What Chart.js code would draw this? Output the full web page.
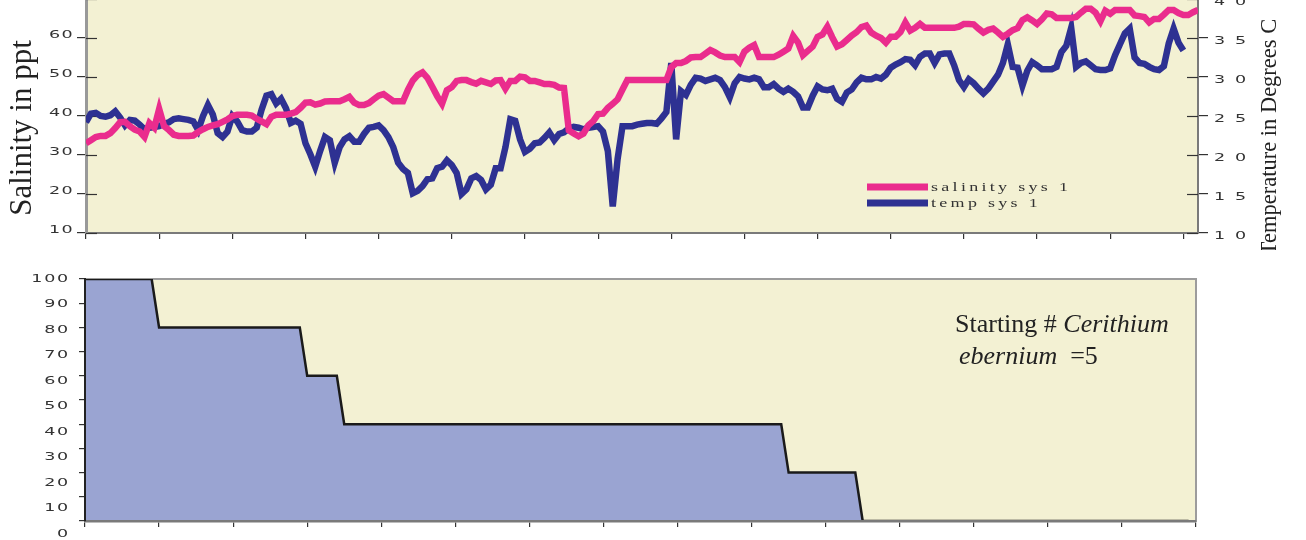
<!DOCTYPE html>
<html>
<head>
<meta charset="utf-8">
<script src="https://cdn.jsdelivr.net/npm/chart.js@4.4.0/dist/chart.umd.min.js"></script>
<style>
html,body{margin:0;padding:0;background:#ffffff;width:1306px;height:540px;overflow:hidden;}
#top{position:absolute;left:0;top:-13px;}
#bot{position:absolute;left:0;top:250px;}
.note{position:absolute;left:955px;top:308px;font-family:"Liberation Serif","Times New Roman",serif;font-size:26px;line-height:32px;color:#222;white-space:nowrap;}
.note .l2{padding-left:4px;}
</style>
</head>
<body>
<canvas id="top" width="1306" height="263"></canvas>
<canvas id="bot" width="1306" height="290"></canvas>
<div class="note">Starting # <i>Cerithium</i><br><span class="l2"><i>ebernium</i>&nbsp; =5</span></div>
<script>
// ---------- data ----------
const days = Array.from({length: 229}, (_, i) => i);   // sampling index (15 per tick)

const salinity = [
  33.0, 33.8, 34.6, 34.9, 34.9, 35.6, 36.9, 38.4, 38.5, 37.4,
  36.5, 36.0, 34.6, 38.2, 37.0, 41.8, 37.4, 36.4, 35.2, 34.9,
  34.9, 34.9, 35.0, 35.9, 36.6, 37.2, 37.6, 37.9, 38.5, 39.1,
  40.0, 40.3, 40.3, 40.3, 40.1, 39.3, 38.6, 37.9, 39.8, 40.3,
  40.3, 40.3, 40.6, 41.0, 42.1, 43.4, 43.5, 42.9, 43.2, 43.7,
  43.8, 43.8, 43.8, 44.3, 44.9, 43.4, 42.8, 42.8, 43.3, 44.3,
  45.2, 45.6, 44.7, 43.8, 43.8, 43.8, 46.7, 49.1, 50.5, 51.2,
  49.8, 47.5, 45.1, 43.1, 46.6, 47.4, 49.0, 49.2, 49.2, 48.7,
  48.3, 49.0, 48.6, 48.2, 49.1, 49.2, 47.0, 49.0, 49.0, 50.1,
  49.9, 49.0, 49.0, 48.6, 48.2, 48.2, 48.0, 47.3, 47.2, 36.3,
  35.5, 34.8, 35.5, 37.6, 38.7, 40.5, 40.6, 42.1, 43.1, 44.3,
  46.8, 49.2, 49.2, 49.2, 49.2, 49.2, 49.2, 49.2, 49.2, 49.2,
  52.5, 53.6, 53.6, 54.1, 55.0, 55.1, 55.1, 56.0, 56.9, 56.3,
  55.5, 55.1, 55.1, 55.1, 53.8, 56.5, 57.5, 58.2, 55.1, 55.1,
  55.1, 55.1, 55.7, 56.5, 57.3, 60.5, 58.8, 55.6, 56.7, 57.8,
  60.3, 60.9, 62.9, 60.2, 57.8, 58.4, 59.5, 60.6, 61.5, 62.8,
  63.2, 61.4, 60.6, 60.0, 58.8, 60.3, 60.3, 61.5, 64.0, 61.9,
  62.6, 63.6, 62.6, 62.6, 62.6, 62.6, 62.6, 62.6, 62.6, 62.9,
  63.6, 63.6, 63.5, 62.4, 61.4, 62.1, 62.4, 61.4, 60.3, 61.1,
  62.0, 62.5, 64.6, 65.3, 64.5, 63.6, 64.8, 66.3, 66.1, 65.1,
  65.1, 65.1, 65.1, 65.4, 66.5, 67.5, 67.5, 66.5, 64.3, 67.0,
  66.2, 67.2, 67.2, 67.2, 67.2, 65.8, 65.6, 65.4, 64.0, 64.9,
  64.9, 66.0, 67.2, 67.2, 66.4, 65.9, 65.9, 66.6, 67.2
];

const temperature = [
  24.2, 25.3, 25.4, 25.0, 24.9, 25.1, 25.6, 24.8, 23.8, 24.5,
  24.4, 23.9, 23.3, 23.5, 23.6, 23.7, 24.0, 24.2, 24.6, 24.7,
  24.6, 24.5, 24.3, 23.2, 25.0, 26.4, 25.2, 22.8, 22.3, 23.0,
  25.0, 24.3, 23.2, 23.0, 23.0, 23.5, 25.8, 27.6, 27.8, 26.6,
  27.2, 26.0, 24.1, 24.4, 24.0, 21.5, 20.1, 18.5, 20.5, 22.3,
  21.9, 19.0, 21.0, 22.0, 22.4, 21.7, 21.7, 22.7, 23.5, 23.6,
  23.8, 23.2, 22.3, 21.0, 19.0, 18.2, 17.7, 15.1, 15.4, 16.0,
  16.9, 17.0, 18.3, 18.5, 19.3, 18.7, 17.7, 15.0, 15.6, 17.0,
  17.3, 16.8, 15.6, 16.2, 18.3, 18.3, 21.0, 24.6, 24.4, 22.0,
  20.4, 20.8, 21.5, 21.6, 22.2, 22.9, 21.9, 22.7, 22.9, 23.4,
  23.6, 23.5, 23.3, 23.5, 23.6, 23.7, 23.0, 20.5, 13.4, 19.5,
  23.7, 23.7, 23.7, 23.9, 24.0, 24.1, 24.1, 24.0, 24.7, 25.5,
  31.8, 22.0, 28.2, 27.7, 29.0, 29.9, 29.8, 29.5, 29.7, 29.9,
  29.6, 28.7, 27.4, 29.2, 30.0, 29.8, 29.7, 29.9, 29.7, 28.7,
  28.7, 29.1, 28.5, 28.1, 28.5, 28.1, 27.5, 26.1, 26.1, 27.6,
  28.8, 28.4, 28.3, 28.5, 27.2, 26.8, 28.0, 28.4, 29.3, 29.9,
  29.7, 29.7, 30.0, 29.8, 30.3, 31.2, 31.6, 31.9, 32.3, 32.2,
  31.5, 32.6, 33.0, 33.0, 31.8, 32.9, 33.0, 33.0, 31.5, 29.6,
  28.7, 29.7, 29.2, 28.5, 27.9, 28.5, 29.4, 30.3, 31.8, 34.2,
  31.3, 31.2, 28.9, 30.8, 31.9, 31.5, 31.0, 31.0, 31.0, 31.3,
  33.2, 34.0, 36.3, 31.3, 31.8, 32.0, 31.5, 31.0, 30.9, 30.9,
  31.1, 32.8, 34.2, 35.6, 36.2, 32.5, 31.8, 31.7, 31.3, 31.0,
  30.9, 31.4, 34.3, 36.2, 34.4, 33.4
];

const salinityTicks = [10, 20, 30, 40, 50, 60, 70];
const tempTicks = [10, 15, 20, 25, 30, 35, 40];

// survival (%) of Cerithium ebernium, step points
const survDays = [0, 9, 10, 29, 30, 34, 35, 94, 95, 104, 105, 149];
const survival = [100, 100, 80, 80, 60, 60, 40, 40, 20, 20, 0, 0];
const survivalTicks = [0, 10, 20, 30, 40, 50, 60, 70, 80, 90, 100];

// ---------- style ----------
const PINK = '#EA2C8D';
const NAVY = '#2E3192';
const CREAM = '#F3F1D3';
const AREA = '#9AA4D2';
const TICKFONT = {family: 'DejaVu Sans', size: 10};

// ---------- plugins ----------
const plotBg = {
  id: 'plotBg',
  beforeDraw(chart) {
    const {ctx, chartArea: a} = chart;
    ctx.save();
    ctx.fillStyle = CREAM;
    ctx.fillRect(a.left, a.top, a.width, a.height);
    ctx.strokeStyle = '#9c9c9c';
    ctx.lineWidth = 2;
    ctx.strokeRect(a.left, a.top, a.width, a.height);
    ctx.restore();
  }
};

// draws tick labels horizontally stretched (wide face like the original)
function wideLabels(map) {
  return {
    id: 'wideLabels',
    afterUpdate(chart) {
      for (const id in map) {
        const s = chart.scales[id];
        if (!s || s._wide) continue;
        const cfg = map[id];
        s.drawLabels = function (area) {
          const c = this.ctx;
          const items = this.getLabelItems(area);
          items.forEach((it, i) => {
            const o = it.options;
            const v = this.ticks[i] ? this.ticks[i].value : 0;
            const dy = cfg.dy ? cfg.dy(v) : 0;
            c.save();
            c.translate(o.translation[0], o.translation[1] + dy);
            c.scale(cfg.sx, 1);
            c.font = it.font.string;
            c.fillStyle = o.color;
            c.textAlign = o.textAlign;
            c.textBaseline = o.textBaseline;
            c.letterSpacing = cfg.sp;
            c.fillText(it.label, 0, it.textOffset);
            c.restore();
          });
        };
        s._wide = true;
      }
    }
  };
}

const innerTicks = {
  id: 'innerTicks',
  beforeDatasetsDraw(chart) {
    const {ctx, chartArea: a} = chart;
    ctx.save();
    ctx.strokeStyle = '#333';
    ctx.lineWidth = 1.2;
    const sy = chart.scales.y, sy2 = chart.scales.y2;
    sy.ticks.forEach(t => {
      const p = Math.round(sy.getPixelForValue(t.value)) + 0.5;
      ctx.beginPath(); ctx.moveTo(a.left, p); ctx.lineTo(a.left + 11, p); ctx.stroke();
    });
    sy2.ticks.forEach(t => {
      const p = Math.round(sy2.getPixelForValue(t.value)) + 0.5;
      ctx.beginPath(); ctx.moveTo(a.right - 11, p); ctx.lineTo(a.right, p); ctx.stroke();
    });
    ctx.restore();
  }
};

const innerLegend = {
  id: 'innerLegend',
  afterDraw(chart) {
    const {ctx} = chart;
    const rows = [200, 216];   // canvas coords (page y 187 / 203)
    chart.data.datasets.forEach((ds, i) => {
      const y = rows[i];
      ctx.save();
      ctx.strokeStyle = ds.borderColor;
      ctx.lineWidth = 7;
      ctx.lineCap = 'butt';
      ctx.beginPath(); ctx.moveTo(867, y); ctx.lineTo(928, y); ctx.stroke();
      ctx.fillStyle = '#333';
      ctx.font = '12px "Liberation Serif"';
      ctx.letterSpacing = '2.2px';
      ctx.textAlign = 'left';
      ctx.textBaseline = 'middle';
      ctx.translate(931, y + 1);
      ctx.scale(1.5, 1);
      ctx.fillText(ds.label, 0, 0);
      ctx.restore();
    });
  }
};

const axisTitles = {
  id: 'axisTitles',
  afterDraw(chart) {
    const {ctx} = chart;
    ctx.save();
    ctx.fillStyle = '#222';
    ctx.textAlign = 'center';
    ctx.textBaseline = 'alphabetic';
    ctx.translate(31, 141);
    ctx.rotate(-Math.PI / 2);
    ctx.font = '31px "Liberation Serif"';
    ctx.fillText(chart.options.scales.y.title.text, 0, 0);
    ctx.restore();
    ctx.save();
    ctx.fillStyle = '#222';
    ctx.textAlign = 'center';
    ctx.textBaseline = 'alphabetic';
    ctx.translate(1276, 150);
    ctx.rotate(-Math.PI / 2);
    ctx.font = '22.5px "Liberation Serif"';
    ctx.fillText(chart.options.scales.y2.title.text, 0, 0);
    ctx.restore();
  }
};

// ---------- top chart ----------
new Chart(document.getElementById('top'), {
  type: 'line',
  data: {
    labels: days,
    datasets: [
      {label: 'salinity sys 1', data: salinity, yAxisID: 'y', borderColor: PINK, backgroundColor: PINK,
       borderWidth: 6.5, pointRadius: 0, tension: 0, fill: false},
      {label: 'temp sys 1', data: temperature, yAxisID: 'y2', borderColor: NAVY, backgroundColor: NAVY,
       borderWidth: 6.5, pointRadius: 0, tension: 0, fill: false}
    ]
  },
  options: {
    responsive: false,
    animation: false,
    events: [],
    layout: {autoPadding: false, padding: {top: 12, left: 0, right: 0, bottom: 0}},
    plugins: {legend: {display: false}, tooltip: {enabled: false}, title: {display: false}},
    scales: {
      x: {
        type: 'linear', min: 0, max: 228,
        ticks: {display: false, stepSize: 15, includeBounds: false},
        grid: {drawOnChartArea: false, tickLength: 6, color: '#333', lineWidth: 1.2},
        border: {color: '#7a7a7a', width: 2},
        afterFit(s) { s.height = 17; }
      },
      y: {
        position: 'left', min: 10, max: 70,
        afterBuildTicks(s) { s.ticks = salinityTicks.map(v => ({value: v})); },
        ticks: {font: TICKFONT, color: '#333', padding: 3},
        grid: {drawOnChartArea: false, tickLength: 9, color: '#333', lineWidth: 1.2},
        border: {color: '#999', width: 3},
        title: {display: false, text: 'Salinity in ppt'},
        afterFit(s) { s.width = 86; }
      },
      y2: {
        position: 'right', min: 10, max: 40,
        afterBuildTicks(s) { s.ticks = tempTicks.map(v => ({value: v})); },
        ticks: {font: TICKFONT, color: '#333', padding: 6},
        grid: {drawOnChartArea: false, tickLength: 10, color: '#333', lineWidth: 1.2},
        border: {color: '#7a7a7a', width: 2},
        title: {display: false, text: 'Temperature in Degrees C'},
        afterFit(s) { s.width = 108; }
      }
    }
  },
  plugins: [plotBg, innerTicks, innerLegend, axisTitles,
    wideLabels({y: {sx: 1.75, sp: '0.8px', dy: () => -3}, y2: {sx: 1.75, sp: '5.6px', dy: () => 3}})]
});

// ---------- bottom chart ----------
new Chart(document.getElementById('bot'), {
  type: 'line',
  data: {
    datasets: [
      {label: 'Cerithium ebernium survival',
       data: survDays.map((d, i) => ({x: d, y: survival[i]})),
       borderColor: '#1a1a1a', backgroundColor: AREA, borderWidth: 2.5,
       pointRadius: 0, tension: 0, fill: 'origin'}
    ]
  },
  options: {
    responsive: false,
    animation: false,
    events: [],
    layout: {autoPadding: false, padding: {top: 29, left: 0, right: 110, bottom: 0}},
    plugins: {legend: {display: false}, tooltip: {enabled: false}, title: {display: false}},
    scales: {
      x: {
        type: 'linear', min: 0, max: 150,
        ticks: {display: false, stepSize: 10},
        grid: {drawOnChartArea: false, tickLength: 6, color: '#333', lineWidth: 1.2},
        border: {color: '#7a7a7a', width: 2.5, z: 1},
        afterFit(s) { s.height = 19; }
      },
      y: {
        min: 0, max: 100,
        afterBuildTicks(s) { s.ticks = survivalTicks.map(v => ({value: v})); },
        ticks: {font: TICKFONT, color: '#333', padding: 9},
        grid: {drawOnChartArea: false, tickLength: 6, color: '#333', lineWidth: 1.2},
        border: {color: '#222', width: 2, z: 1},
        afterFit(s) { s.width = 85; }
      }
    }
  },
  plugins: [plotBg, wideLabels({y: {sx: 1.75, sp: '1px', dy: v => (100 - v) * 0.13}})]
});
</script>
</body>
</html>
